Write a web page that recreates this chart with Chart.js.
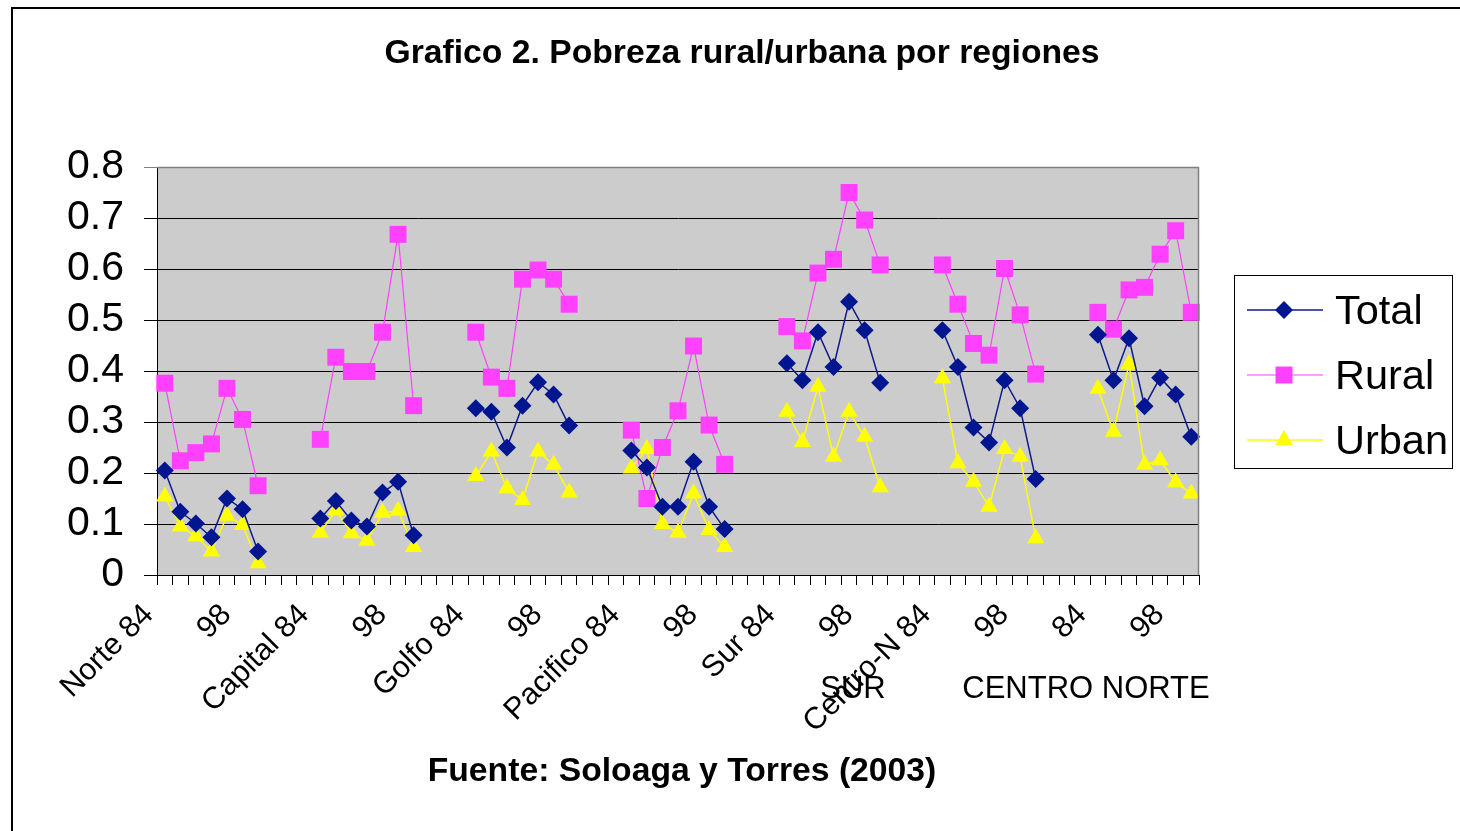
<!DOCTYPE html>
<html>
<head>
<meta charset="utf-8">
<script src="https://cdn.jsdelivr.net/npm/chart.js@4/dist/chart.umd.min.js"></script>
<style>
  body { margin: 0; background: #fff; }
  #wrap { width: 1460px; height: 831px; }
</style>
</head>
<body>
<div id="wrap"><canvas id="povertyChart" width="1460" height="831"></canvas></div>
<script>
// == datos == //
const categories = [
  'Norte 84', '', '', '', '', '98', '', '', '', '',
  'Capital 84', '', '', '', '', '98', '', '', '', '',
  'Golfo 84', '', '', '', '', '98', '', '', '', '',
  'Pacifico 84', '', '', '', '', '98', '', '', '', '',
  'Sur 84', '', '', '', '', '98', '', '', '', '',
  'Centro-N 84', '', '', '', '', '98', '', '', '', '',
  '84', '', '', '', '', '98', ''
];

const total = [
  0.205, 0.124, 0.101, 0.074, 0.150, 0.129, 0.046, null, null, null,
  0.111, 0.145, 0.107, 0.095, 0.162, 0.183, 0.078, null, null, null,
  0.327, 0.320, 0.250, 0.332, 0.378, 0.354, 0.293, null, null, null,
  0.244, 0.211, 0.134, 0.134, 0.222, 0.134, 0.090, null, null, null,
  0.415, 0.382, 0.476, 0.408, 0.536, 0.480, 0.377, null, null, null,
  0.480, 0.408, 0.289, 0.260, 0.382, 0.327, 0.188, null, null, null,
  0.471, 0.382, 0.464, 0.331, 0.387, 0.354, 0.271
];

const rural = [
  0.376, 0.224, 0.240, 0.257, 0.366, 0.305, 0.175, null, null, null,
  0.266, 0.427, 0.399, 0.399, 0.476, 0.668, 0.332, null, null, null,
  0.476, 0.388, 0.366, 0.580, 0.598, 0.580, 0.531, null, null, null,
  0.284, 0.150, 0.250, 0.322, 0.449, 0.294, 0.217, null, null, null,
  0.487, 0.459, 0.592, 0.619, 0.750, 0.696, 0.608, null, null, null,
  0.608, 0.531, 0.454, 0.431, 0.601, 0.510, 0.394, null, null, null,
  0.515, 0.482, 0.559, 0.564, 0.629, 0.675, 0.515
];

const urban = [
  0.154, 0.095, 0.076, 0.046, 0.116, 0.098, 0.023, null, null, null,
  0.083, 0.127, 0.082, 0.067, 0.122, 0.126, 0.055, null, null, null,
  0.194, 0.242, 0.170, 0.147, 0.242, 0.216, 0.162, null, null, null,
  0.209, 0.247, 0.100, 0.083, 0.160, 0.088, 0.055, null, null, null,
  0.320, 0.261, 0.369, 0.232, 0.320, 0.271, 0.172, null, null, null,
  0.386, 0.219, 0.183, 0.134, 0.247, 0.232, 0.072, null, null, null,
  0.365, 0.281, 0.413, 0.216, 0.225, 0.182, 0.160
];

const yTicks = [0, 0.1, 0.2, 0.3, 0.4, 0.5, 0.6, 0.7, 0.8];

const FONT = '"Liberation Sans", Arial, sans-serif';

// == marcadores para la leyenda == //
function drawMarker(ctx, style, x, y, r, color) {
  ctx.fillStyle = color;
  ctx.beginPath();
  if (style === 'rectRot') {
    ctx.moveTo(x - r, y); ctx.lineTo(x, y - r); ctx.lineTo(x + r, y); ctx.lineTo(x, y + r);
  } else if (style === 'rect') {
    const s = r * Math.SQRT1_2;
    ctx.rect(x - s, y - s, 2 * s, 2 * s);
  } else {
    const h = r * Math.sin(Math.PI / 3);
    ctx.moveTo(x, y - r); ctx.lineTo(x + h, y + r / 2); ctx.lineTo(x - h, y + r / 2);
  }
  ctx.closePath();
  ctx.fill();
}

const decor = {
  id: 'decor',
  beforeDraw(chart) {
    const { ctx, chartArea: a } = chart;
    ctx.save();
    ctx.fillStyle = '#cccccc';
    ctx.fillRect(a.left, a.top, a.right - a.left, a.bottom - a.top);
    ctx.restore();
  },
  afterDraw(chart) {
    const { ctx, chartArea: a } = chart;
    ctx.save();
    // marco exterior
    ctx.strokeStyle = '#000';
    ctx.lineWidth = 2;
    ctx.strokeRect(12, 8, 1470, 840);

    // borde gris del area de trazado
    ctx.strokeStyle = '#808080';
    ctx.lineWidth = 1.5;
    ctx.beginPath();
    ctx.moveTo(a.left, a.top + 0.5);
    ctx.lineTo(a.right - 0.5, a.top + 0.5);
    ctx.lineTo(a.right - 0.5, a.bottom);
    ctx.stroke();

    // titulos
    ctx.fillStyle = '#000';
    ctx.textAlign = 'center';
    ctx.textBaseline = 'alphabetic';
    ctx.font = 'bold 33.7px ' + FONT;
    ctx.fillText('Grafico 2. Pobreza rural/urbana por regiones', 742, 63);
    ctx.fillText('Fuente: Soloaga y Torres (2003)', 682, 781);

    ctx.font = '31px ' + FONT;
    ctx.fillText('SUR', 853, 698);
    ctx.fillText('CENTRO NORTE', 1086, 698);

    // leyenda
    ctx.strokeStyle = '#000';
    ctx.lineWidth = 1;
    ctx.strokeRect(1234.5, 275.5, 218, 193);
    ctx.textAlign = 'left';
    ctx.font = '41.5px ' + FONT;
    chart.data.datasets.forEach((ds, i) => {
      const y = 310 + i * 65;
      ctx.strokeStyle = ds.borderColor;
      ctx.lineWidth = ds.borderWidth;
      ctx.beginPath();
      ctx.moveTo(1247, y);
      ctx.lineTo(1323, y);
      ctx.stroke();
      drawMarker(ctx, ds.pointStyle, 1284, y, ds.pointRadius, ds.pointBackgroundColor);
      ctx.fillStyle = '#000';
      ctx.fillText(ds.label, 1335, y + 14);
    });
    ctx.restore();
  }
};

new Chart(document.getElementById('povertyChart'), {
  type: 'line',
  data: {
    labels: categories,
    datasets: [
      {
        label: 'Total',
        data: total,
        borderColor: '#0d1a8a',
        borderWidth: 1.5,
        pointStyle: 'rectRot',
        pointRadius: 9,
        pointBackgroundColor: '#001690',
        pointBorderColor: '#001690',
        pointBorderWidth: 0,
        spanGaps: false
      },
      {
        label: 'Rural',
        data: rural,
        borderColor: '#ff40ff',
        borderWidth: 1.2,
        pointStyle: 'rect',
        pointRadius: 12,
        pointBackgroundColor: '#ff40ff',
        pointBorderColor: '#ff40ff',
        pointBorderWidth: 0,
        spanGaps: false
      },
      {
        label: 'Urban',
        data: urban,
        borderColor: '#ffff00',
        borderWidth: 1.5,
        pointStyle: 'triangle',
        pointRadius: 10,
        pointBackgroundColor: '#ffff00',
        pointBorderColor: '#ffff00',
        pointBorderWidth: 0,
        spanGaps: false
      }
    ]
  },
  options: {
    responsive: false,
    animation: false,
    layout: { padding: { left: 0, top: 167, right: 261, bottom: 0 } },
    plugins: {
      legend: { display: false },
      title: { display: false },
      tooltip: { enabled: false }
    },
    scales: {
      x: {
        offset: true,
        afterFit: (scale) => { scale.height = 256; },
        grid: {
          offset: true,
          drawOnChartArea: false,
          drawTicks: true,
          tickLength: 10,
          color: '#000'
        },
        border: { display: true, color: '#000', width: 1 },
        ticks: {
          autoSkip: false,
          minRotation: 45,
          maxRotation: 45,
          padding: 12,
          labelOffset: -16,
          color: '#000',
          font: { family: FONT, size: 30.5 }
        }
      },
      y: {
        min: 0,
        max: 0.8,
        afterFit: (scale) => { scale.width = 157; },
        afterBuildTicks: (scale) => { scale.ticks = yTicks.map((v) => ({ value: v })); },
        grid: {
          color: (c) => (c.tick && c.tick.value === 0.8 ? '#808080' : '#000'),
          lineWidth: 1,
          drawTicks: true,
          tickLength: 13
        },
        border: { display: true, color: '#000', width: 1 },
        ticks: {
          autoSkip: false,
          padding: 20,
          color: '#000',
          font: { family: FONT, size: 41 },
          callback: (v) => (v === 0 ? '0' : v.toFixed(1))
        }
      }
    }
  },
  plugins: [decor]
});
</script>
</body>
</html>
